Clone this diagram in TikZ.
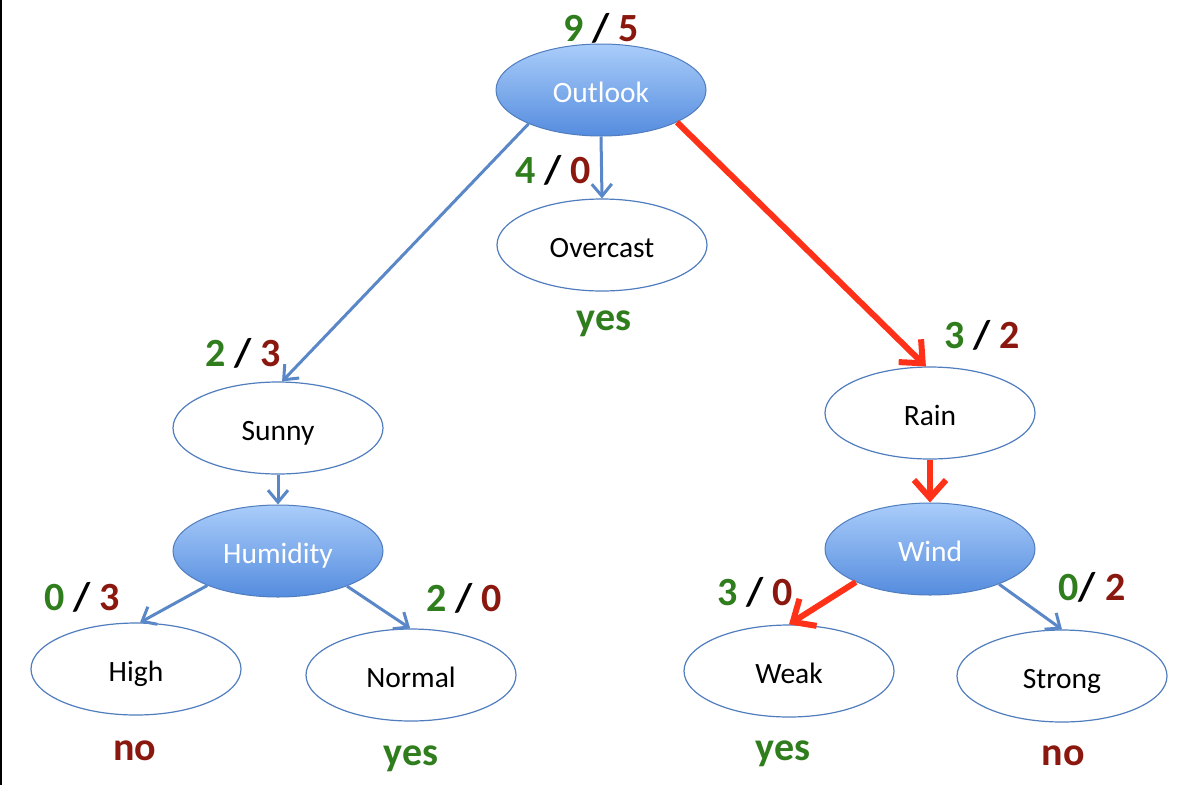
\documentclass[tikz,border=0pt]{standalone}
\usepackage{fontspec}
\setmainfont{Carlito}
\usetikzlibrary{arrows.meta,shapes.geometric}
\definecolor{edgeblue}{RGB}{90,135,200}
\definecolor{ringblue}{RGB}{80,125,190}
\definecolor{topblue}{RGB}{170,205,250}
\definecolor{botblue}{RGB}{85,140,222}
\definecolor{numgreen}{RGB}{48,125,30}
\definecolor{numred}{RGB}{138,24,14}
\definecolor{arrred}{RGB}{255,50,25}
\tikzset{
  plain/.style={ellipse,draw=ringblue,line width=1.2pt,fill=white,minimum width=210pt,minimum height=92pt,inner sep=0pt,text height=26pt,text depth=1.4pt,font=\fontsize{29.5}{32}\selectfont},
  attr/.style={ellipse,draw=ringblue,line width=1pt,top color=topblue,bottom color=botblue,minimum width=210pt,minimum height=92pt,inner sep=0pt,text height=26pt,text depth=1.4pt,text=white,font=\fontsize{29.5}{32}\selectfont},
  barrow/.style={draw=edgeblue,line width=3pt,-{Straight Barb[length=12pt,width=20pt,line width=3pt]}},
  rarrow/.style={draw=arrred,line width=6pt,-{Straight Barb[length=18pt,width=32pt,line width=6pt]}},
  cnt/.style={font=\bfseries\fontsize{40}{46}\selectfont,inner sep=0pt},
  lab/.style={font=\bfseries\fontsize{40}{46}\selectfont,inner sep=0pt},
}
\newcommand{\cnts}[2]{\textcolor{numgreen}{#1} / \textcolor{numred}{#2}}
\begin{document}
\begin{tikzpicture}[x=1pt,y=-1pt]
\useasboundingbox (0,0) rectangle (1201,785);
\fill[white] (0,0) rectangle (1201,785);
\fill[black] (0,0) rectangle (2,785);
% nodes
\node[attr]  (outlook)  at (601,90)  {Outlook};
\node[plain] (overcast) at (602,245) {Overcast};
\node[plain] (sunny)    at (278,428) {Sunny};
\node[attr]  (humidity) at (278,551) {Humidity};
\node[plain] (high)     at (136,669) {High};
\node[plain] (normal)   at (411,675) {Normal};
\node[plain] (rain)     at (930,413) {Rain};
\node[attr]  (wind)     at (930,549) {Wind};
\node[plain] (weak)     at (789,671) {Weak};
\node[plain] (strong)   at (1062,676) {Strong};
% edges
\draw[barrow] (outlook.205) -- (sunny.85);
\draw[barrow] (outlook.south) -- (overcast.north);
\draw[rarrow] (outlook.337) -- (rain.95);
\draw[barrow] (sunny.south) -- (humidity.north);
\draw[barrow] (humidity.206) -- (high.85);
\draw[barrow] (humidity.333) -- (normal.91);
\draw[rarrow] (rain.south) -- (wind.north);
\draw[rarrow] (wind.204) -- (weak.north);
\draw[barrow] (wind.333) -- (strong.north);
% counts
\node[cnt] (c1) at (601,28)  {\cnts{9}{5}};
\node[cnt] (c2) at (553,170) {\cnts{4}{0}};
\node[cnt] (c3) at (243,353) {\cnts{2}{3}};
\node[cnt] (c4) at (982,335) {\cnts{3}{2}};
\node[cnt] (c5) at (82,597)  {\cnts{0}{3}};
\node[cnt] (c6) at (464,598) {\cnts{2}{0}};
\node[cnt] (c7) at (755,592) {\cnts{3}{0}};
\node[cnt] (c8) at (1092,587) {\textcolor{numgreen}{0}/ \textcolor{numred}{2}};
% leaf labels
\node[lab,text=numgreen] (l1) at (604,324) {yes};
\node[lab,text=numred]   (l2) at (135,751) {no};
\node[lab,text=numgreen] (l3) at (411,759) {yes};
\node[lab,text=numgreen] (l4) at (783,754) {yes};
\node[lab,text=numred]   (l5) at (1063,756) {no};
\end{tikzpicture}
\end{document}
